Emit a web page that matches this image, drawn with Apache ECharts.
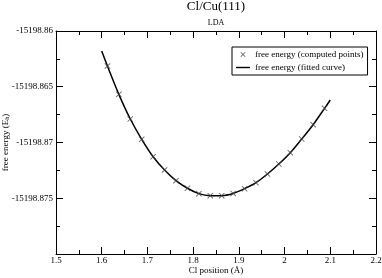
<!DOCTYPE html>
<html>
<head>
<meta charset="utf-8">
<script src="https://cdn.jsdelivr.net/npm/echarts@6/dist/echarts.min.js"></script>
<style>html,body{margin:0;padding:0;background:#fff}#c{width:382px;height:278px}</style>
</head>
<body>
<div id="c"></div>
<script>
// Computed points
const pointX = [1.6125,1.6375,1.6625,1.6875,1.7125,1.7375,1.7625,1.7875,1.8125,1.8375,1.8625,1.8875,1.9125,1.9375,1.9625,1.9875,2.0125,2.0375,2.0625,2.0875];
const pointY = [-15198.863145,-15198.865681,-15198.867894,-15198.869713,-15198.871272,-15198.872464,-15198.873423,-15198.874104,-15198.874588,-15198.874767,-15198.874767,-15198.874570,-15198.874140,-15198.873602,-15198.872822,-15198.871927,-15198.870914,-15198.869686,-15198.868405,-15198.866935];
// Fitted curve samples
const curveX = [1.6,1.6125,1.6375,1.6625,1.6875,1.7125,1.7375,1.7625,1.7875,1.8125,1.8375,1.8625,1.8875,1.9125,1.9375,1.9625,1.9875,2.0125,2.0375,2.0625,2.0875,2.1];
const curveY = [-15198.861800,-15198.863145,-15198.865681,-15198.867894,-15198.869713,-15198.871272,-15198.872464,-15198.873423,-15198.874104,-15198.874588,-15198.874767,-15198.874767,-15198.874570,-15198.874140,-15198.873602,-15198.872822,-15198.871927,-15198.870914,-15198.869686,-15198.868405,-15198.866935,-15198.866190];
const xTicks = {min:1.5, max:2.2, interval:0.1};
const yTicks = {min:-15198.88, max:-15198.86, interval:0.005};
const seriesNames = ['free energy (computed points)','free energy (fitted curve)'];

const FONT = 'Liberation Serif';
const crossPath = 'path://M0,1L1,0L5,4L9,0L10,1L6,5L10,9L9,10L5,6L1,10L0,9L4,5Z';
const linePath = 'path://M0,0L20,0L20,2L0,2Z';

function axisCommon(pos, showLabel){
  return {
    type:'value', position:pos,
    axisLine:{show:true, onZero:false, lineStyle:{color:'#000', width:1}},
    axisTick:{show:true, inside:true, length:7, lineStyle:{color:'#000', width:1}},
    minorTick:{show:true, splitNumber:2, length:4, lineStyle:{color:'#000', width:1}},
    splitLine:{show:false}, minorSplitLine:{show:false},
    axisLabel:{show:showLabel, color:'#000', fontFamily:FONT, fontSize:9, margin:3}
  };
}
const chart = echarts.init(document.getElementById('c'), null, {renderer:'canvas'});
const xb = Object.assign(axisCommon('bottom', true), {min:xTicks.min, max:xTicks.max, interval:xTicks.interval,
  name:'Cl position (Å)', nameLocation:'middle', nameGap:12, nameMoveOverlap:false,
  nameTextStyle:{color:'#000', fontFamily:FONT, fontSize:9}});
xb.axisLabel.margin = 2;
xb.axisLabel.formatter = v => String(Math.round(v*10)/10);
const xt = Object.assign(axisCommon('top', false), {min:xTicks.min, max:xTicks.max, interval:xTicks.interval});
const yl = Object.assign(axisCommon('left', true), {min:yTicks.min, max:yTicks.max, interval:yTicks.interval,
  name:'{a|free energy (E}{s|h}{a|)}', nameLocation:'middle', nameGap:46, nameRotate:90, nameMoveOverlap:false,
  nameTextStyle:{color:'#000', fontFamily:FONT, fontSize:9,
    rich:{a:{fontFamily:FONT, fontSize:9, color:'#000'}, s:{fontFamily:FONT, fontSize:6, color:'#000', verticalAlign:'bottom'}}}});
yl.axisLabel.showMinLabel = false;
yl.axisLabel.formatter = v => String(Math.round(v*1000)/1000);
const yr = Object.assign(axisCommon('right', false), {min:yTicks.min, max:yTicks.max, interval:yTicks.interval});

chart.setOption({
  animation:false,
  backgroundColor:'#fff',
  title:[
    {text:'Cl/Cu(111)', left:216, top:0, textAlign:'center', padding:0,
     textStyle:{fontFamily:FONT, fontSize:13, fontWeight:'normal', color:'#000'}},
    {text:'LDA', left:216, top:19, textAlign:'center', padding:0,
     textStyle:{fontFamily:FONT, fontSize:8, fontWeight:'normal', color:'#000'}}
  ],
  grid:{left:56, right:6, top:31, bottom:24, outerBoundsMode:'none'},
  legend:{
    orient:'vertical', left:232, top:47, padding:[3,4,3,4], itemGap:4,
    itemWidth:14, itemHeight:5,
    borderColor:'#000', borderWidth:1, borderRadius:0,
    textStyle:{fontFamily:FONT, fontSize:9, color:'#000'},
    data:[
      {name:seriesNames[0], icon:crossPath, itemStyle:{color:'#333'}},
      {name:seriesNames[1], icon:linePath, itemStyle:{color:'#000'}}
    ]
  },
  xAxis:[xb, xt],
  yAxis:[yl, yr],
  series:[
    {name:seriesNames[1], type:'line', xAxisIndex:0, yAxisIndex:0,
     data:curveX.map((x,i)=>[x,curveY[i]]), smooth:0.3, showSymbol:false, symbol:'none',
     lineStyle:{color:'#000', width:1.5}, itemStyle:{color:'#000'}, z:2},
    {name:seriesNames[0], type:'scatter', xAxisIndex:0, yAxisIndex:0,
     data:pointX.map((x,i)=>[x,pointY[i]]), symbol:crossPath, symbolSize:6,
     itemStyle:{color:'#444', opacity:0.85}, z:3}
  ]
});
</script>
</body>
</html>
